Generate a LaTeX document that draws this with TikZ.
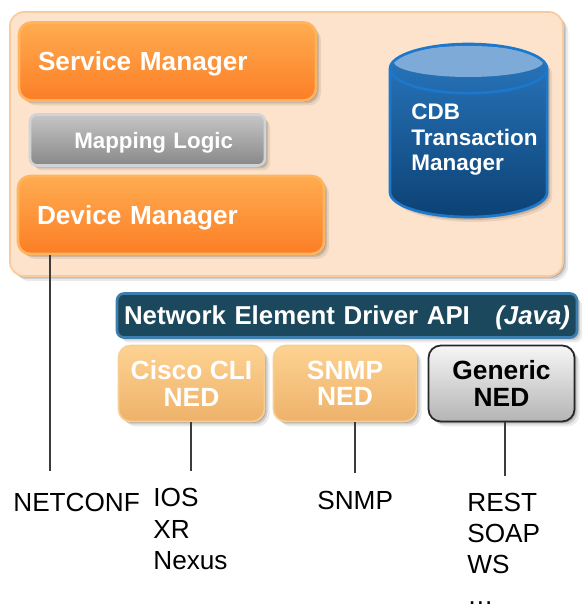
\documentclass[tikz,border=0pt]{standalone}
\usepackage{fontspec}
\setmainfont{Liberation Sans}
\usetikzlibrary{shapes.geometric, shadows}
\definecolor{panelfill}{RGB}{253, 227, 203}
\definecolor{panelline}{RGB}{248, 203, 158}
\definecolor{orangetop}{RGB}{255, 172, 80}
\definecolor{orangebot}{RGB}{252, 126, 38}
\definecolor{orangeline}{RGB}{255, 180, 96}
\definecolor{greytop}{RGB}{198, 198, 198}
\definecolor{greybot}{RGB}{136, 136, 136}
\definecolor{greyline}{RGB}{208, 211, 216}
\definecolor{cdbtop}{RGB}{42, 120, 192}
\definecolor{cdbbot}{RGB}{12, 66, 116}
\definecolor{cdbline}{RGB}{28, 120, 205}
\definecolor{cdblid}{RGB}{126, 170, 216}
\definecolor{apifill}{RGB}{27, 72, 92}
\definecolor{apiline}{RGB}{62, 126, 172}
\definecolor{nedtop}{RGB}{253, 210, 146}
\definecolor{nedbot}{RGB}{238, 178, 106}
\definecolor{nedline}{RGB}{246, 206, 146}
\definecolor{generictop}{RGB}{246, 246, 246}
\definecolor{genericbot}{RGB}{180, 180, 180}
\definecolor{wirecolor}{RGB}{60, 60, 60}

\begin{document}
\begin{tikzpicture}[
      softdrop/.style={drop shadow={shadow xshift=.03cm, shadow yshift=-.03cm, opacity=.16, fill=black}, drop shadow={shadow xshift=.06cm, shadow yshift=-.06cm, opacity=.12, fill=black}, drop shadow={shadow xshift=.1cm, shadow yshift=-.1cm, opacity=.08, fill=black}},
      panel/.style={rectangle, draw=panelline, line width=1pt, fill=panelfill, rounded corners=8pt, minimum width=11.06cm, minimum height=5.28cm, softdrop},
      orangebox/.style={rectangle, draw=orangeline, line width=1.5pt, top color=orangetop, bottom color=orangebot, rounded corners=7pt, minimum height=1.56cm, inner xsep=.38cm, text depth=0pt, font=\fontsize{14.9}{17}\selectfont\bfseries, text=white, align=left, softdrop},
      greybox/.style={rectangle, draw=greyline, line width=1.5pt, top color=greytop, bottom color=greybot, rounded corners=4pt, minimum height=1.02cm, inner xsep=.64cm, text depth=0pt, font=\fontsize{12.7}{15}\selectfont\bfseries, text=white, align=right, softdrop},
      apibox/.style={rectangle, draw=apiline, line width=1.5pt, fill=apifill, rounded corners=4pt, minimum height=.88cm, inner xsep=.14cm, text depth=0pt, font=\fontsize{14.7}{16}\selectfont\bfseries, text=white, align=left, softdrop},
      nedbox/.style={rectangle, draw=nedline, line width=1pt, top color=nedtop, bottom color=nedbot, rounded corners=7pt, minimum height=1.52cm, inner sep=0pt, font=\fontsize{15}{15}\selectfont\bfseries, text=white, align=center, softdrop},
      genericbox/.style={nedbox, draw=black!85, top color=generictop, bottom color=genericbot, text=black},
      cdbdrum/.style={cylinder, shape border rotate=90, aspect=4.2, draw=cdbline, line width=1.5pt, top color=cdbtop, bottom color=cdbbot, minimum width=3.14cm, minimum height=3.46cm, softdrop},
      cdblabel/.style={inner sep=0pt, font=\fontsize{12.8}{14.5}\selectfont\bfseries, text=white, align=left},
      proto/.style={inner sep=0pt, font=\fontsize{14.9}{17.7}\selectfont, text=black, align=left},
      wire/.style={line width=1pt, wirecolor}
    ]
      \useasboundingbox (0, 0) rectangle (11.64, 12.28);

      \node[panel] (P) at (5.73, 9.4) {};
      \node[orangebox, text width=5.18cm] (SM) at (3.35, 11.05) {Service Manager};
      \node[greybox, text width=3.42cm] (ML) at (2.95, 9.48) {Mapping Logic};
      \node[orangebox, text width=5.36cm] (DM) at (3.42, 7.98) {Device Manager};
      \node[cdbdrum, anchor=shape center, path picture={\fill[cdblid] ([yshift=-.35cm]path picture bounding box.north) ellipse (1.5cm and .31cm);}] (CDB) at (9.37, 9.67) {};
      \node[cdblabel, anchor=west] (CT) at (8.22, 9.48) {CDB\\Transaction\\Manager};

      \node[apibox, text width=8.92cm] (API) at (6.94, 5.97) {Network Element Driver API\hfill\textit{(Java)}};
      \node[nedbox, minimum width=2.92cm] (CN) at (3.83, 4.61) {Cisco CLI\\NED};
      \node[nedbox, minimum width=2.86cm] (SN) at (6.9, 4.61) {SNMP\\NED};
      \node[genericbox, minimum width=2.92cm] (GN) at (10.03, 4.61) {Generic\\NED};

      \coordinate (NE) at (1, 2.86);
      \coordinate (CE) at (3.82, 2.86);
      \coordinate (SE) at (7.1, 2.82);
      \coordinate (GE) at (10.1, 2.76);

      \node[proto, anchor=west] (NC) at (0.26, 2.24) {NETCONF};
      \node[proto, anchor=west] (IX) at (3.06, 1.7) {IOS\\XR\\Nexus};
      \node[proto, anchor=west] (SP) at (6.34, 2.28) {SNMP};
      \node[proto, anchor=west] (RS) at (9.34, 1.3) {REST\\SOAP\\WS\\\ldots};

      \draw[wire] (DM.south -| NE) -- (NE);
      \draw[wire] (CN.south -| CE) -- (CE);
      \draw[wire] (SN.south -| SE) -- (SE);
      \draw[wire] (GN.south -| GE) -- (GE);
    \end{tikzpicture}
\end{document}
